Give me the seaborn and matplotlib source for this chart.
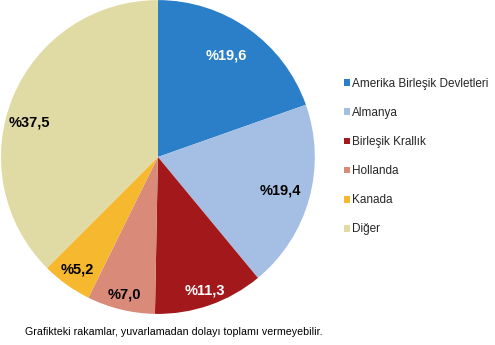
import numpy as np
import matplotlib
matplotlib.use("Agg")
import matplotlib.pyplot as plt
import seaborn as sns
from matplotlib.patches import Patch

countries = ["Amerika Birleşik Devletleri", "Almanya", "Birleşik Krallık", "Hollanda", "Kanada", "Diğer"]
values = [19.6, 19.4, 11.3, 7.0, 5.2, 37.5]
labels = ["%19,6", "%19,4", "%11,3", "%7,0", "%5,2", "%37,5"]
colors = ["#2a7fc8", "#a5bfe4", "#a3191b", "#d98a78", "#f5b82e", "#e0dba4"]
label_colors = ["white", "black", "white", "black", "black", "black"]
label_dist = [0.78, 0.81, 0.90, 0.905, 0.886, 0.85]
label_ang_off = [1.5, 0, 0, 0, 0, 7.3]

sns.set_theme(style="white")
plt.rcParams["font.family"] = ["Liberation Sans", "DejaVu Sans"]
pal = sns.color_palette(colors)

fig = plt.figure(figsize=(4.95, 3.45), dpi=100)
ax = fig.add_axes([0.002, 0.0899, 0.634, 0.910])
wedges, _ = ax.pie(values, colors=pal, startangle=90, counterclock=False, radius=1.0,
                   wedgeprops=dict(linewidth=0))
for w, lab, lc, d, off in zip(wedges, labels, label_colors, label_dist, label_ang_off):
    ang = np.deg2rad((w.theta1 + w.theta2) / 2 + off)
    ax.text(d * np.cos(ang), d * np.sin(ang), lab, ha="center", va="center",
            color=lc, fontsize=10.5, fontweight="bold")
ax.set_xlim(-1, 1)
ax.set_ylim(-1, 1)
ax.set_aspect("equal")
ax.axis("off")

handles = [Patch(facecolor=c, edgecolor="none") for c in pal]
fig.legend(handles, countries, loc="upper left", bbox_to_anchor=(0.685, 0.788),
           frameon=False, fontsize=8.5, handlelength=0.5, handleheight=0.5,
           handletextpad=0.2, labelspacing=1.45, borderaxespad=0)

fig.text(0.0505, 0.0377, "Grafikteki rakamlar, yuvarlamadan dolayı toplamı vermeyebilir.",
         fontsize=7.7, color="black", ha="left", va="center")

fig.savefig("out.png", dpi=100)
